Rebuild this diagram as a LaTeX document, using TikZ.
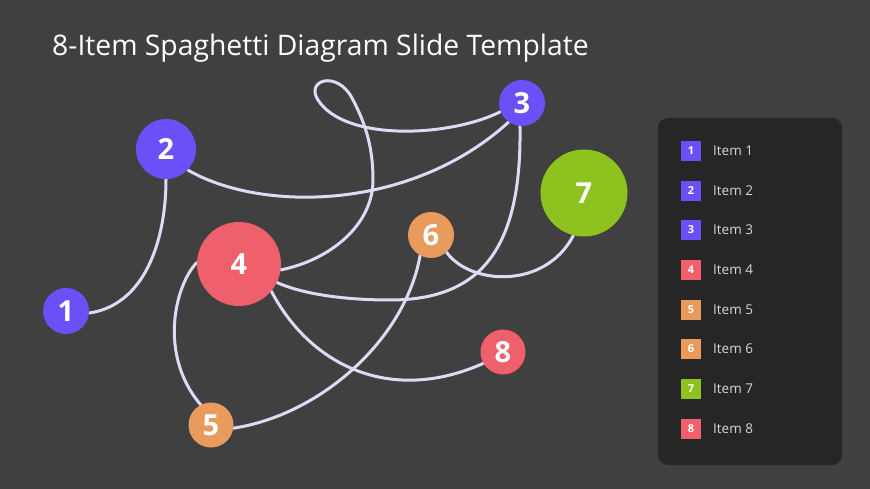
\documentclass[tikz,border=0pt]{standalone}
\usepackage{fontspec}
\setmainfont{Open Sans}
\pgfdeclarelayer{bg}
\pgfdeclarelayer{lines}
\pgfsetlayers{bg,lines,main}
\definecolor{bgc}{HTML}{404040}
\definecolor{panelc}{HTML}{262626}
\definecolor{purp}{HTML}{6A50F6}
\definecolor{redc}{HTML}{EF5F6C}
\definecolor{orac}{HTML}{E99B5E}
\definecolor{grnc}{HTML}{8DC21F}
\definecolor{linec}{HTML}{DDDAF6}
\definecolor{legtxt}{HTML}{D6D6D6}
\tikzset{
  item/.style={circle, fill=#1, inner sep=0pt, text=white, font=\fontsize{29}{29}\selectfont\bfseries},
  spag/.style={draw=linec, line width=3pt, line cap=round},
  legsq/.style={fill=#1, minimum size=20pt, inner sep=0pt, text=white, font=\fontsize{11}{11}\selectfont\bfseries},
  leglab/.style={anchor=west, text=legtxt, inner sep=0pt, font=\fontsize{13.5}{13.5}\selectfont},
}
\begin{document}
\begin{tikzpicture}[x=1pt,y=-1pt]
\useasboundingbox (0,0) rectangle (870,489);
\begin{pgfonlayer}{bg}
\fill[bgc] (0,0) rectangle (870,489);
\end{pgfonlayer}
\node[anchor=base west, inner sep=0pt, text=white, font=\fontsize{28.3}{28.3}\selectfont] (title) at (52,56) {8-Item Spaghetti Diagram Slide Template};
% items
\node[item=purp, minimum size=46pt] (n1) at (66,311) {1};
\node[item=purp, minimum size=60pt] (n2) at (166,149) {2};
\node[item=purp, minimum size=46pt] (n3) at (522,103) {3};
\node[item=redc, minimum size=84pt] (n4) at (239,264) {4};
\node[item=orac, minimum size=45pt] (n5) at (211,425) {5};
\node[item=orac, minimum size=46pt] (n6) at (431,235) {6};
\node[item=grnc, minimum size=87pt] (n7) at (584,193) {7};
\node[item=redc, minimum size=45pt] (n8) at (503,352) {8};
% connectors
\begin{pgfonlayer}{lines}
\draw[spag] (n1.-5) .. controls (145,305) and (166,240) .. (n2.-90);
\draw[spag] (n2.-44) .. controls (260,212) and (410,212) .. (n3.-125);
\draw[spag] (n3.-158) .. controls (450,137) and (345,142) .. (318,100)
   .. controls (305,80) and (337,70) .. (352,98)
   .. controls (367,126) and (373,150) .. (373,180)
   .. controls (373,225) and (330,260) .. (n4.-8);
\draw[spag] (n3.-95) .. controls (522,250) and (480,300) .. (390,300)
   .. controls (340,300) and (300,293) .. (n4.-26);
\draw[spag] (n4.178) .. controls (175,285) and (158,355) .. (n5.117);
\draw[spag] (n4.-40) .. controls (310,365) and (390,405) .. (n8.-150);
\draw[spag] (n5.-8) .. controls (320,415) and (405,340) .. (n6.-118);
\draw[spag] (n6.-48) .. controls (470,285) and (545,290) .. (n7.-104);
\end{pgfonlayer}
% legend
\node[fill=panelc, rounded corners=10pt, minimum width=184pt, minimum height=347pt, inner sep=0pt] (panel) at (750,291.5) {};
\node[legsq=purp] (s1) at (691,150.7) {1};
\node[legsq=purp] (s2) at (691,190.7) {2};
\node[legsq=purp] (s3) at (691,230) {3};
\node[legsq=redc] (s4) at (691,270) {4};
\node[legsq=orac] (s5) at (691,309.5) {5};
\node[legsq=orac] (s6) at (691,349) {6};
\node[legsq=grnc] (s7) at (691,388.5) {7};
\node[legsq=redc] (s8) at (691,428.5) {8};
\node[leglab] (l1) at (713,150.7) {Item 1};
\node[leglab] (l2) at (713,190.7) {Item 2};
\node[leglab] (l3) at (713,230) {Item 3};
\node[leglab] (l4) at (713,270) {Item 4};
\node[leglab] (l5) at (713,309.5) {Item 5};
\node[leglab] (l6) at (713,349) {Item 6};
\node[leglab] (l7) at (713,388.5) {Item 7};
\node[leglab] (l8) at (713,428.5) {Item 8};
\end{tikzpicture}
\end{document}
